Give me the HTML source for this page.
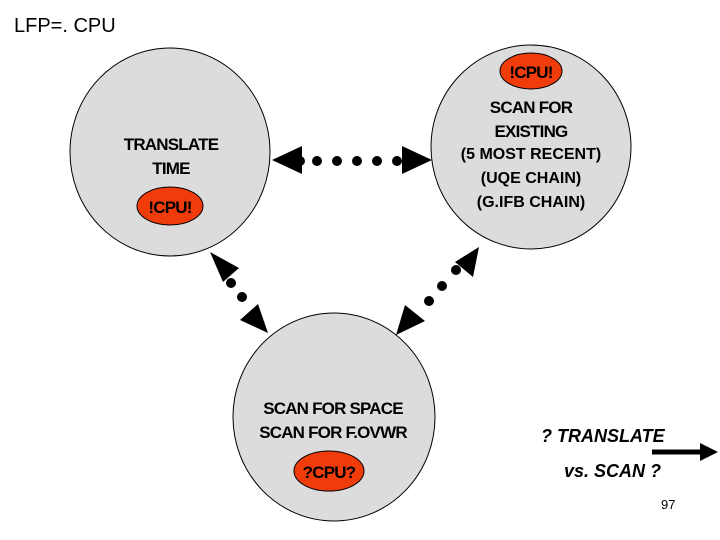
<!DOCTYPE html>
<html><head><style>
body{margin:0;background:#fff}
svg{display:block}
text{font-family:"Liberation Sans",Arial,sans-serif;font-weight:bold}
.m{font-family:"Liberation Mono",monospace;font-weight:normal}
</style></head><body>
<svg width="720" height="540" viewBox="0 0 720 540" xmlns="http://www.w3.org/2000/svg">
<text x="14" y="32" font-size="20" font-weight="normal" style="font-weight:normal">LFP=.  CPU</text>
<ellipse cx="170" cy="152" rx="100" ry="104" fill="#dcdcdc" stroke="#000" stroke-width="1"/>
<ellipse cx="531" cy="147" rx="100" ry="102" fill="#dcdcdc" stroke="#000" stroke-width="1"/>
<ellipse cx="334" cy="417" rx="101" ry="104" fill="#dcdcdc" stroke="#000" stroke-width="1"/>
<ellipse cx="170" cy="206" rx="33" ry="19" fill="#f03c0a" stroke="#000" stroke-width="1"/>
<ellipse cx="531" cy="71" rx="31" ry="18" fill="#f03c0a" stroke="#000" stroke-width="1"/>
<ellipse cx="329" cy="471" rx="35" ry="20" fill="#f03c0a" stroke="#000" stroke-width="1"/>
<g font-size="17" text-anchor="middle" letter-spacing="-0.8">
<text x="171" y="150">TRANSLATE</text><text x="171" y="174">TIME</text>
<text x="170" y="213">!CPU!</text>
<text x="531" y="78">!CPU!</text>
<text x="531" y="113">SCAN FOR</text><text x="531" y="137">EXISTING</text>
<text x="333" y="414">SCAN FOR SPACE</text><text x="333" y="438">SCAN FOR F.OVWR</text>
<text x="329" y="478">?CPU?</text>
</g>
<g font-size="16" text-anchor="middle" class="m" style="font-family:'Liberation Mono',monospace;font-weight:normal">
<text x="531" y="159">(5 MOST RECENT)</text>
<text x="531" y="183">(UQE CHAIN)</text>
<text x="531" y="207">(G.IFB CHAIN)</text>
</g>
<g fill="#000">
<polygon points="272,160 302,146 302,174"/>
<polygon points="432,160 402,146 402,174"/>
<circle cx="300" cy="161" r="5"/><circle cx="317" cy="161" r="5"/><circle cx="337" cy="161" r="5"/><circle cx="357" cy="161" r="5"/><circle cx="377" cy="161" r="5"/><circle cx="397" cy="161" r="5"/>
<polygon points="210,252 239,268 223,282"/>
<polygon points="268,333 240,320 258,304"/>
<circle cx="231" cy="283" r="5"/><circle cx="242" cy="297" r="5"/>
<polygon points="479,247 473,277 455,262"/>
<polygon points="396,335 405,305 425,321"/>
<circle cx="456" cy="270" r="5"/><circle cx="442" cy="286" r="5"/><circle cx="429" cy="301" r="5"/>
</g>
<g font-size="18" font-style="italic">
<text x="541" y="442">? TRANSLATE</text>
<text x="564" y="477">vs. SCAN ?</text>
</g>
<line x1="652" y1="452" x2="702" y2="452" stroke="#000" stroke-width="5"/>
<polygon points="718,452 700,443 700,461" fill="#000"/>
<text x="661" y="509" font-size="13" style="font-weight:normal">97</text>
</svg>
</body></html>
